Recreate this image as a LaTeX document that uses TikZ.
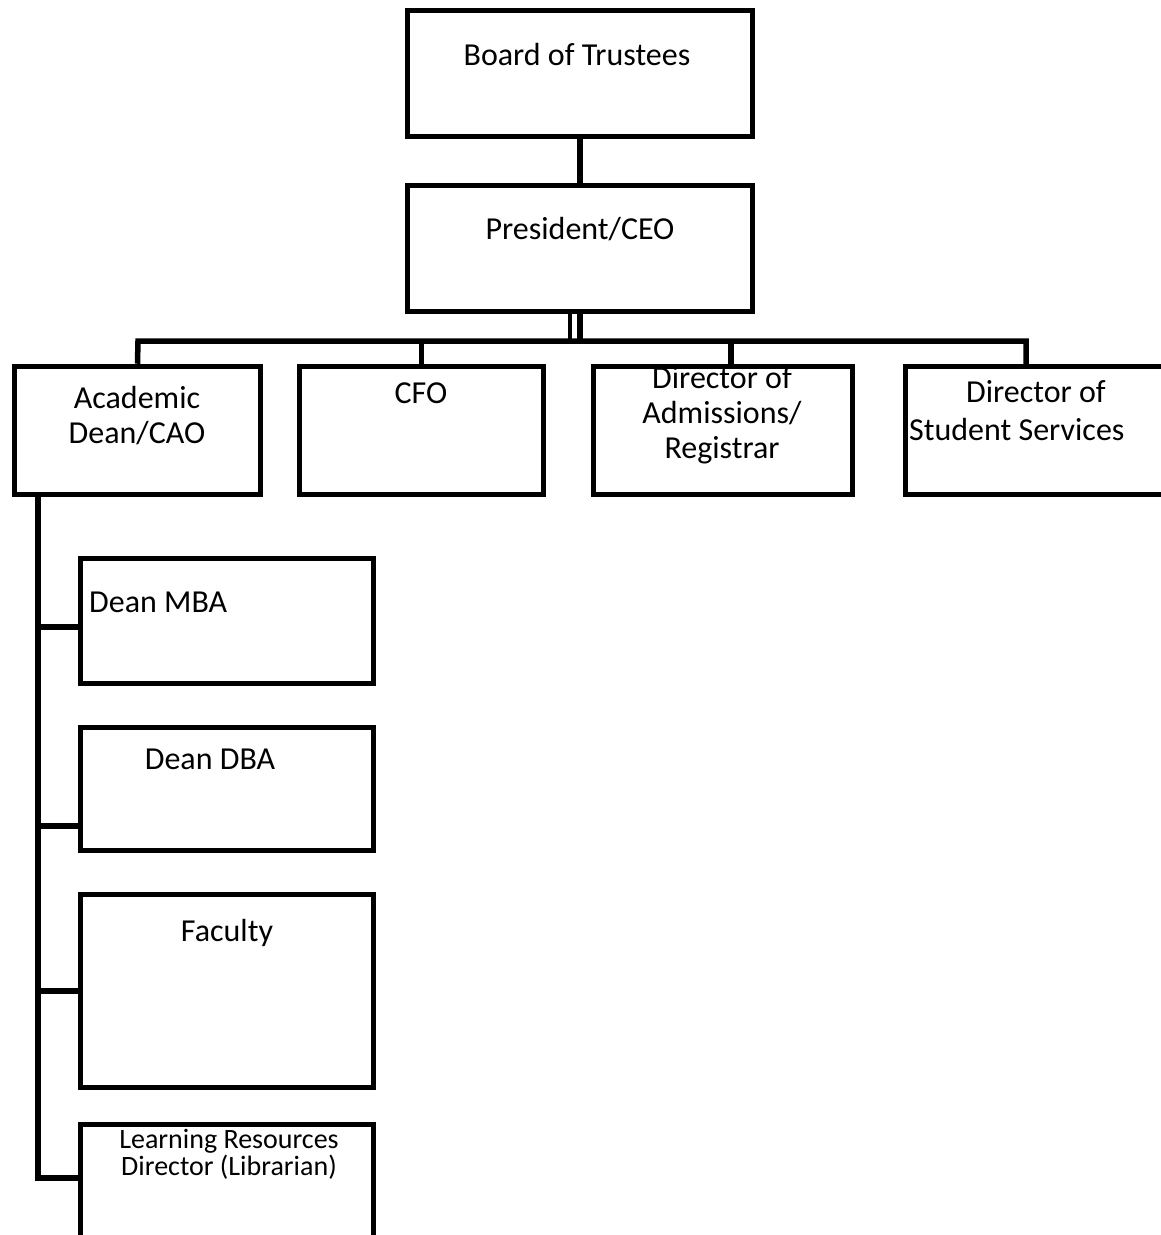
\documentclass[tikz,border=0pt]{standalone}
\usepackage{fontspec}
\setmainfont{Carlito}
\usetikzlibrary{calc}

\tikzset{
  box/.style={draw=black, line width=5.5pt, rectangle, inner sep=0pt},
  lbl/.style={font=\fontsize{32}{35}\selectfont, align=center, inner sep=0pt, anchor=base},
  conn/.style={draw=black, line width=5.5pt}
}

\begin{document}
\begin{tikzpicture}[x=1pt, y=-1pt]
    \useasboundingbox (0,0) rectangle (1161,1235);

    % top of the chart
    \node [box, minimum width=345pt, minimum height=126pt] (board) at (580,73.5) {};
    \node [box, minimum width=345pt, minimum height=126pt] (pres) at (580,248.5) {};
    \node [lbl] (boardtxt) at (577,65) {Board of Trustees};
    \node [lbl] (prestxt) at (580,239) {President/CEO};

    % second row
    \begin{scope}[every node/.style={box, minimum height=128pt}]
        \node [minimum width=246pt] (acad) at (137.5,430.5) {};
        \node [minimum width=244pt] (cfo) at (421.5,430.5) {};
        \node [minimum width=259pt] (adm) at (723,430.5) {};
        \node [minimum width=269.5pt] (stud) at (1040.25,430.5) {};
    \end{scope}
    \node [lbl] (acadtxt) at (137,443) {Academic\\Dean/CAO};
    \node [lbl] (cfotxt) at (421,403) {CFO};
    \node [lbl] (admtxt) at (722,458) {Director of\\Admissions/\\Registrar};
    \node [lbl, align=left, anchor=base west, font=\fontsize{32}{38}\selectfont] (studtxt) at (909,440)
        {\hspace*{57pt}Director of\\Student Services};

    % academic units
    \begin{scope}[every node/.style={box, minimum width=293pt}]
        \node [minimum height=125pt] (mba) at (227,621) {};
        \node [minimum height=123pt] (dba) at (227,789) {};
        \node [minimum height=193pt] (fac) at (227,991) {};
        \node [minimum height=135.5pt] (lrd) at (227,1192.25) {};
    \end{scope}
    \node [lbl, anchor=base west] (mbatxt) at (89,612) {Dean MBA};
    \node [lbl] (dbatxt) at (210,769) {Dean DBA};
    \node [lbl] (factxt) at (227,941) {Faculty};
    \node [lbl, font=\fontsize{28}{27}\selectfont] (lrdtxt) at (229,1175) {Learning Resources\\Director (Librarian)};

    % connectors
    \coordinate (busL) at (138,341);
    \coordinate (busR) at (1026,364);
    \coordinate (pdbl) at (570,311.5);
    \coordinate (admtop) at (731,364);
    \path [conn] (board) -- (pres);
    \path [conn] (pres.south) -- (pres.south |- busL);
    \path [conn, line width=3.5pt] (pdbl) -- (pdbl |- busL);
    \path [conn] (acad.north) -- (busL) -- (busL -| busR) -- (busR);
    \path [conn] (cfo.north) -- (cfo.north |- busL);
    \path [conn] (admtop) -- (admtop |- busL);

    \foreach \b/\y in {mba/627, dba/826, fac/991, lrd/1178}
        \coordinate (j\b) at (38,\y);
    \path [conn] (acad.south -| jmba) -- (jlrd) -- (jlrd -| lrd.west);
    \foreach \b in {mba, dba, fac}
        \path [conn] (j\b) -- (j\b -| \b.west);

\end{tikzpicture}
\end{document}
